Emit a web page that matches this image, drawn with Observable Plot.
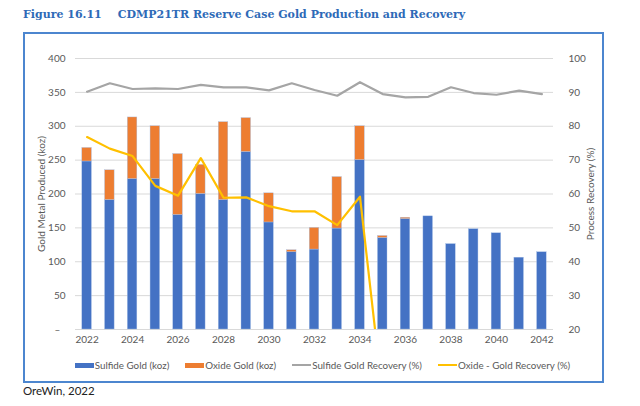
<!DOCTYPE html>
<html>
<head>
<meta charset="utf-8">
<script src="https://cdn.jsdelivr.net/npm/d3@7"></script>
<script src="https://cdn.jsdelivr.net/npm/@observablehq/plot@0.6"></script>
<style>
  body { margin: 0; background: #fff; width: 640px; height: 406px; position: relative; overflow: hidden; font-family: Lato, "Open Sans", sans-serif; }
  #title { position: absolute; left: 23px; top: 8px; font-family: "DejaVu Serif", serif; font-weight: bold; font-size: 11px; color: #2E6AB7; white-space: nowrap; }
  #title .num { margin-right: 16px; }
  #box { position: absolute; left: 23px; top: 32px; width: 581px; height: 351px; box-sizing: border-box; border: 2px solid #4C86CF; }
  #chart { position: absolute; left: 0; top: 0; }
  #legend { position: absolute; left: 0; right: 0; top: 325px; display: flex; justify-content: center; padding-left: 18px; font-size: 9.8px; color: #595959; gap: 16px; }
  .item { display: flex; align-items: center; }
  .sw { display: inline-block; width: 19px; margin-right: 1px; }
  #caption { position: absolute; left: 23px; top: 384px; font-size: 11.5px; color: #222; font-family: Lato, sans-serif; }
</style>
</head>
<body>
<div id="title"><span class="num">Figure 16.11</span>CDMP21TR Reserve Case Gold Production and Recovery</div>
<div id="box">
  <div id="chart"></div>
  <div id="legend"></div>
</div>
<div id="caption">OreWin, 2022</div>
<script>
const years = [2022,2023,2024,2025,2026,2027,2028,2029,2030,2031,2032,2033,2034,2035,2036,2037,2038,2039,2040,2041,2042];
const sulfideGold = [248,191,222,222,169,200,191,262,158,114,118,149,250,135,163,167,126,148,142,106,114];
const oxideGold   = [20,44,91,78,90,43,115,50,43,3,32,76,50,3,2,0,0,0,0,0,0];
const sulfideRecovery = [90.2,92.7,91.0,91.2,91.0,92.2,91.5,91.5,90.6,92.7,90.7,89.0,93.0,89.5,88.5,88.7,91.5,89.8,89.3,90.5,89.5];
const oxideRecoveryYears = [2022,2023,2024,2025,2026,2027,2028,2029,2030,2031,2032,2033,2034,2035];
const oxideRecovery = [76.8,73.4,71.2,62.4,59.5,70.6,58.9,59.0,56.4,54.9,54.9,50.8,59.2,0];
const leftTicks = [0,50,100,150,200,250,300,350,400];
const rightTicks = [20,30,40,50,60,70,80,90,100];
const xTickYears = [2022,2024,2026,2028,2030,2032,2034,2036,2038,2040,2042];

const seriesNames = ["Sulfide Gold (koz)","Oxide Gold (koz)","Sulfide Gold Recovery (%)","Oxide - Gold Recovery (%)"];
const colors = ["#4472C4","#ED7D31","#A5A5A5","#FFC000"];

// right axis (20..100 %) shares the left scale (0..400 koz)
const toLeft = r => (r - 20) * 5;

const bars = [];
years.forEach((y,i) => bars.push({year: y, series: seriesNames[0], value: sulfideGold[i]}));
years.forEach((y,i) => bars.push({year: y, series: seriesNames[1], value: oxideGold[i]}));
const sulRec = years.map((y,i) => ({year: y, v: toLeft(sulfideRecovery[i])}));
const oxRec = oxideRecoveryYears.map((y,i) => ({year: y, v: toLeft(oxideRecovery[i])}));

const font = "Lato, 'Open Sans', sans-serif";
const plot = Plot.plot({
  width: 577,
  height: 320,
  marginLeft: 50,
  marginRight: 49,
  marginTop: 24,
  marginBottom: 25,
  style: {fontFamily: font, fontSize: "10px", color: "#595959", background: "transparent"},
  x: {type: "band", domain: years, paddingInner: 0.58, paddingOuter: 0.3, round: false, label: null},
  y: {domain: [0, 400], label: null},
  color: {domain: seriesNames.slice(0,2), range: colors.slice(0,2)},
  marks: [
    Plot.ruleY(leftTicks, {stroke: "#D9D9D9", strokeWidth: 1}),
    Plot.barY(bars, {x: "year", y: "value", fill: "series", order: null, stroke: "#A9C0E6", strokeWidth: 0.4}),
    Plot.line(sulRec, {x: "year", y: "v", stroke: colors[2], strokeWidth: 2.2}),
    Plot.line(oxRec, {x: "year", y: "v", stroke: colors[3], strokeWidth: 2.2, clip: true}),
    Plot.axisX(xTickYears, {tickSize: 0, tickPadding: 6, tickFormat: d => String(d), fill: "#595959", fontSize: 10}),
    Plot.axisY(leftTicks, {anchor: "left", tickSize: 0, tickPadding: 10, tickFormat: d => d === 0 ? "–  " : String(d), fill: "#595959", fontSize: 10,
      label: "Gold Metal Produced (koz)", labelAnchor: "center", labelOffset: 38, labelArrow: "none"}),
    Plot.axisY(rightTicks.map(toLeft), {anchor: "right", tickSize: 0, tickPadding: 15, tickFormat: d => String(d/5 + 20), fill: "#595959", fontSize: 10,
      label: "Process Recovery (%)", labelAnchor: "center", labelOffset: 40, labelArrow: "none"})
  ]
});
document.getElementById("chart").appendChild(plot);

const legend = document.getElementById("legend");
seriesNames.forEach((n,i) => {
  const it = document.createElement("div");
  it.className = "item";
  const sw = document.createElement("span");
  sw.className = "sw";
  sw.style.height = i < 2 ? "5px" : "2px";
  sw.style.background = colors[i];
  it.appendChild(sw);
  const t = document.createElement("span");
  t.textContent = n;
  it.appendChild(t);
  legend.appendChild(it);
});
</script>
</body>
</html>
